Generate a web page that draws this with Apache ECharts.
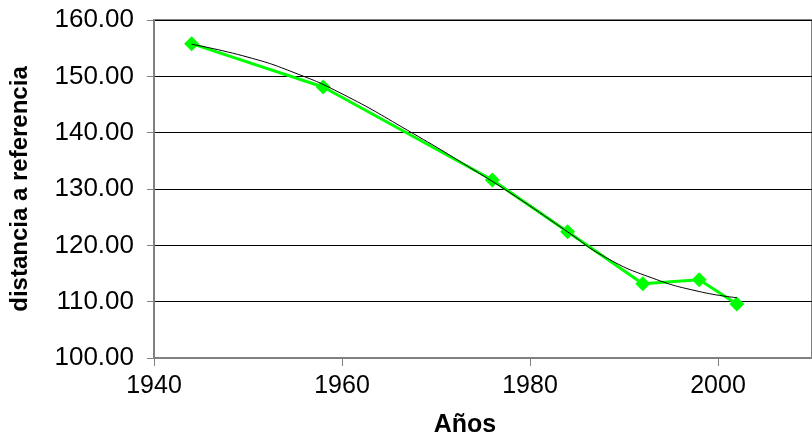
<!DOCTYPE html>
<html>
<head>
<meta charset="utf-8">
<script src="https://cdn.jsdelivr.net/npm/echarts@6/dist/echarts.min.js"></script>
<style>
  html, body { margin: 0; padding: 0; background: #fff; }
  #chart { width: 812px; height: 443px; }
</style>
</head>
<body>
<div id="chart"></div>
<script>
// valores medidos
const years = [1944, 1958, 1976, 1984, 1992, 1998, 2002];
const distances = [155.8, 148.1, 131.6, 122.4, 113.2, 113.9, 109.6];

// línea de tendencia
const trendYears = [1944, 1950, 1955, 1960, 1967, 1974, 1979, 1984, 1988, 1993, 1998, 2002];
const trendValues = [155.7, 153.4, 150.6, 146.9, 140.4, 133.4, 128.1, 122.4, 117.9, 114.2, 111.8, 110.7];

const xTicks = [1940, 1960, 1980, 2000];

const font = '"Liberation Sans", Arial, sans-serif';

const chart = echarts.init(document.getElementById('chart'));

chart.setOption({
    animation: false,
    grid: {
        left: 153, top: 20, right: -4, bottom: 83,
        show: true, borderColor: '#808080', borderWidth: 2
    },
    xAxis: {
        type: 'value',
        min: 1940, max: 2010, interval: 20,
        name: 'Años',
        nameLocation: 'middle',
        nameGap: 55,
        nameTextStyle: { fontFamily: font, fontSize: 25, fontWeight: 'bold', color: '#000', padding: [0, 36, 0, 0] },
        axisLine: { lineStyle: { color: '#808080', width: 2 } },
        axisTick: { length: 8, lineStyle: { color: '#808080', width: 1 } },
        axisLabel: {
            fontFamily: font, fontSize: 25, color: '#000', margin: 16,
            showMaxLabel: false,
            formatter: v => xTicks.includes(v) ? String(v) : ''
        },
        splitLine: { show: false }
    },
    yAxis: {
        type: 'value',
        min: 100, max: 160, interval: 10,
        name: 'distancia a referencia',
        nameLocation: 'middle',
        nameGap: 122,
        nameTextStyle: { fontFamily: font, fontSize: 24, fontWeight: 'bold', color: '#000' },
        axisLine: { show: true, lineStyle: { color: '#808080', width: 2 } },
        axisTick: { show: true, length: 7, lineStyle: { color: '#808080', width: 1 } },
        axisLabel: {
            fontFamily: font, fontSize: 26, color: '#000', margin: 20,
            formatter: v => v.toFixed(2)
        },
        splitLine: { lineStyle: { color: '#000', width: 1 } }
    },
    series: [
        {
            name: 'tendencia',
            type: 'line',
            data: trendYears.map((y, i) => [y, trendValues[i]]),
            smooth: 0.5,
            showSymbol: false,
            lineStyle: { color: '#000', width: 1 },
            z: 3
        },
        {
            name: 'distancia',
            type: 'line',
            data: years.map((y, i) => [y, distances[i]]),
            symbol: 'diamond',
            symbolSize: 15,
            itemStyle: { color: '#00ff00' },
            lineStyle: { color: '#00ff00', width: 3 },
            z: 2
        }
    ]
});
</script>
</body>
</html>
